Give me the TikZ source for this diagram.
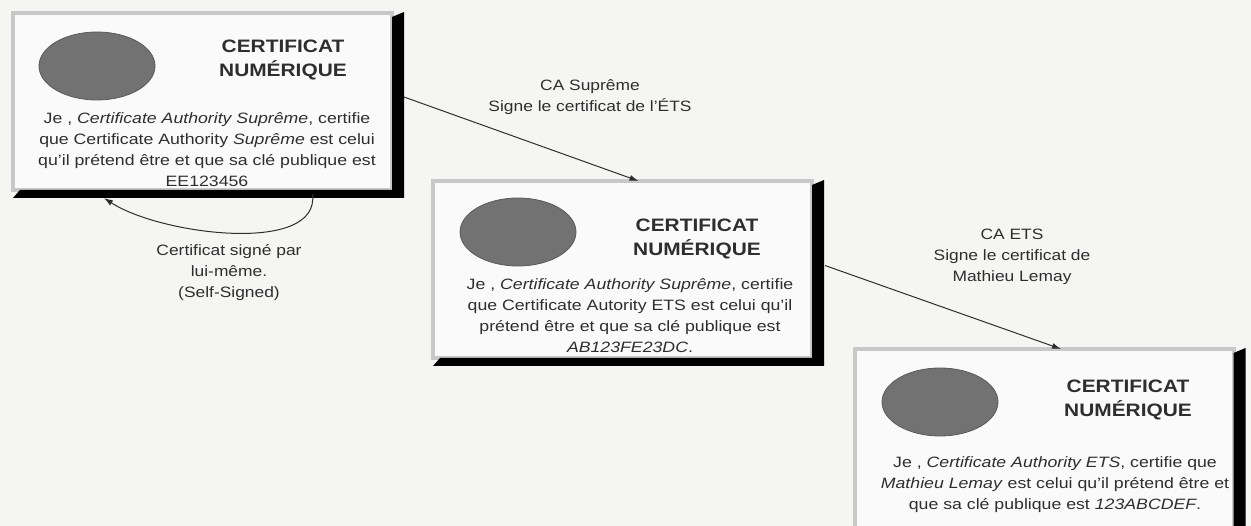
\documentclass[tikz,border=0pt]{standalone}
\usepackage{fontspec}
\setmainfont{Liberation Sans}
\usetikzlibrary{arrows.meta,calc,shapes.geometric}
\definecolor{pagebg}{HTML}{F5F5F3}
\definecolor{cardbg}{HTML}{FAFAFA}
\definecolor{framec}{HTML}{C8C8C8}
\definecolor{seal}{HTML}{727272}
\definecolor{sealedge}{HTML}{5A5A5A}
\definecolor{ink}{HTML}{2E2E2E}

% black bevel on the right and bottom sides of a certificate card
\newcommand{\certbevel}[1]{%
  \fill[black]
    ($(#1.north east)+(0,4)$) -- ($(#1.north east)+(12,-1)$) --
    ($(#1.south east)+(12,8)$) -- ($(#1.south west)+(0,8)$) --
    ($(#1.south west)+(7,0)$) -- (#1.south east) -- cycle;}

\begin{document}
\begin{tikzpicture}[x=1pt,y=-1pt,
  card/.style={draw=framec, line width=4pt, fill=cardbg, outer sep=0pt,
    inner sep=0pt, minimum width=379pt},
  sealmark/.style={ellipse, fill=seal, draw=sealedge, line width=0.8pt,
    minimum width=116pt, minimum height=68pt, inner sep=0pt},
  title/.style={align=center, text=ink, xscale=1.16,
    font=\fontsize{18}{24}\selectfont\bfseries},
  body/.style={align=center, text=ink, xscale=1.18,
    font=\fontsize{15}{21}\selectfont},
  note/.style={align=center, text=ink, xscale=1.16,
    font=\fontsize{15}{21}\selectfont},
  link/.style={draw=ink, line width=1pt, -{Latex[length=9pt,width=6pt]}}]

\useasboundingbox[fill=pagebg] (0,0) rectangle (1251,526);

% certificate cards
\node[card, minimum height=177pt] (c1) at (202.5,101.5) {};
\node[card, minimum height=177pt] (c2) at (622.5,269.5) {};
\node[card, minimum height=180pt] (c3) at (1044,439) {};
\certbevel{c1}
\certbevel{c2}
\certbevel{c3}

% seals
\node[sealmark] (s1) at (97,66) {};
\node[sealmark] (s2) at (518,232) {};
\node[sealmark] (s3) at (940,402) {};

% titles
\node[title] (t1) at (283,60) {CERTIFICAT\\NUMÉRIQUE};
\node[title] (t2) at (697,239) {CERTIFICAT\\NUMÉRIQUE};
\node[title] (t3) at (1128,400) {CERTIFICAT\\NUMÉRIQUE};

% statements
\node[body] (b1) at (207,150) {Je , \textit{Certificate Authority Suprême}, certifie\\
  que Certificate Authority \textit{Suprême} est celui\\
  qu'il prétend être et que sa clé publique est\\
  EE123456};
\node[body] (b2) at (630,316) {Je , \textit{Certificate Authority Suprême}, certifie\\
  que Certificate Autority ETS est celui qu'il\\
  prétend être et que sa clé publique est\\
  \textit{AB123FE23DC}.};
\node[body] (b3) at (1055,485) {Je , \textit{Certificate Authority ETS}, certifie que\\
  \textit{Mathieu Lemay} est celui qu'il prétend être et\\
  que sa clé publique est \textit{123ABCDEF}.};

% signing links
\draw[link] ($(c1.east)+(12,-4.5)$) -- ($(c2.north)+(16,0)$);
\draw[link] ($(c2.east)+(13,-4)$) -- ($(c3.north)+(17,0)$);
\draw[link] ($(c1.south)+(110,4)$)
  .. controls ($(c1.south)+(118,65)$) and ($(c1.south)+(-42,45)$)
  .. ($(c1.south west)+(91,8)$);

% link labels
\node[note] (n1) at (590,97) {CA Suprême\\Signe le certificat de l'ÉTS};
\node[note] (n2) at (1012,257) {CA ETS\\Signe le certificat de\\Mathieu Lemay};
\node[note] (n3) at (229,273) {Certificat signé par\\lui-même.\\(Self-Signed)};
\end{tikzpicture}
\end{document}
